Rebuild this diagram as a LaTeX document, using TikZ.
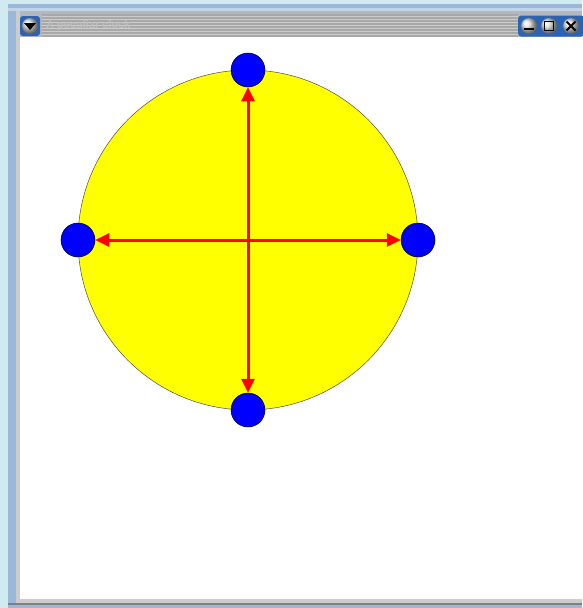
\documentclass[tikz,border=0pt]{standalone}
\usepackage{fontspec}
\setmainfont{Liberation Sans}
\usetikzlibrary{arrows.meta}
\definecolor{deskblue}{HTML}{D0EAF0}
\definecolor{framegrey}{HTML}{B4B8BE}
\definecolor{framelight}{HTML}{CCCCCC}
\definecolor{framedark}{HTML}{A8A8A8}
\definecolor{edgeblue}{HTML}{9CB8D8}
\definecolor{btnblue}{HTML}{2C64B4}
\definecolor{titletext}{HTML}{BEBEBE}
\definecolor{clockyellow}{RGB}{255,255,0}
\definecolor{dotblue}{RGB}{0,0,255}
\definecolor{rayred}{RGB}{255,0,0}
\tikzset{
  dot/.style={circle, draw=black, line width=0.5pt, fill=dotblue, minimum size=34pt, inner sep=0pt},
  ray/.style={draw=rayred, line width=3pt, -{Triangle[length=14pt,width=13pt]}},
  knob/.style={circle, inner sep=0pt, minimum size=16pt, shading=ball, ball color=white!75!gray},
}
\begin{document}
\begin{tikzpicture}[x=1pt,y=-1pt]
\useasboundingbox (0,0) rectangle (582,608);
% desktop
\fill[deskblue] (0,0) rectangle (582,608);
% window frame
\fill[framegrey] (8,4) rectangle (582,608);
\fill[edgeblue] (8,4) rectangle (582,8);
\fill[edgeblue!60!white] (8,8) rectangle (582,11);
\fill[edgeblue] (8,11) rectangle (16,608);
\fill[framelight] (16,11) rectangle (20,600);
\fill[framelight] (16,599) rectangle (582,603);
\fill[gray] (8,603) rectangle (582,605);
\fill[edgeblue] (8,605) rectangle (582,608);
% title bar stripes
\foreach \yy in {14,17,...,35}{
  \fill[framedark] (42,\yy) rectangle (518,\yy+1.5);
  \fill[framelight] (42,\yy+1.5) rectangle (518,\yy+3);
}
% menu button
\node[rounded corners=3pt, fill=btnblue, minimum width=20pt, minimum height=20pt, inner sep=0pt] (menu) at (30,26) {};
\node[knob] (menuknob) at (30,26) {};
\fill[black] (24,23) -- (36,23) -- (30,30) -- cycle;
% title
\node[anchor=west, text=titletext, font=\bfseries\fontsize{11}{13}\selectfont, inner sep=0pt] (title) at (46,26) {A peculiar clock};
% right buttons
\node[rounded corners=3pt, fill=btnblue, minimum width=66pt, minimum height=21pt, inner sep=0pt, anchor=west] (btns) at (518,26) {};
\node[knob] (bmin) at (529,26) {};
\node[knob] (bmax) at (549,26) {};
\node[knob] (bclose) at (571,26) {};
\draw[black, line width=2pt] (524,29) -- (534,29);
\draw[black, line width=1.4pt] (544.5,21.5) rectangle (553.5,30.5);
\draw[black, line width=1.8pt] (566.5,21.5) -- (575.5,30.5) (575.5,21.5) -- (566.5,30.5);
% content area
\fill[white] (20,37) rectangle (582,599);
% clock face
\node[circle, draw=black!70, line width=0.5pt, fill=clockyellow, minimum size=340pt, inner sep=0pt] (face) at (248,240) {};
\coordinate (c) at (248,240);
\node[dot] (n) at (248,70) {};
\node[dot] (e) at (418,240) {};
\node[dot] (s) at (248,410) {};
\node[dot] (w) at (78,240) {};
\draw[ray] (c) -- (n);
\draw[ray] (c) -- (e);
\draw[ray] (c) -- (s);
\draw[ray] (c) -- (w);
\end{tikzpicture}
\end{document}
